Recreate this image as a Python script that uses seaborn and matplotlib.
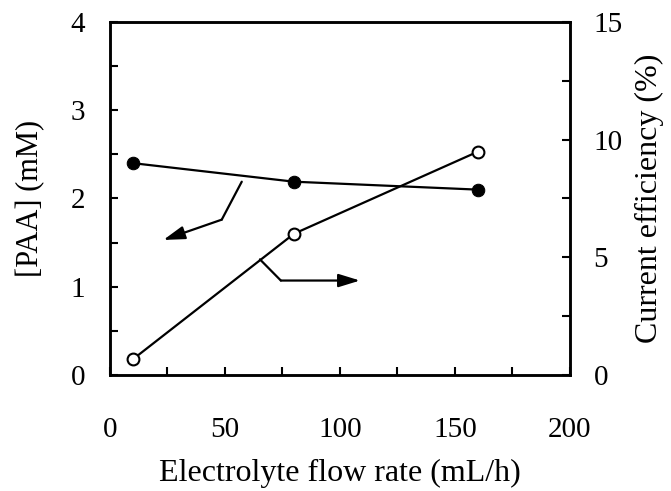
import pandas as pd
import numpy as np
import matplotlib
matplotlib.use("Agg")
import matplotlib.pyplot as plt
import seaborn as sns

sns.set_style("ticks")
plt.rcParams['font.family'] = ['Liberation Serif', 'DejaVu Serif']
plt.rcParams['text.color'] = 'black'
plt.rcParams['axes.labelcolor'] = 'black'

# data
flow_rate = [10, 80, 160]
paa_mM = [2.40, 2.19, 2.10]
current_eff = [0.67, 6.0, 9.49]

df = pd.DataFrame({"flow": flow_rate, "paa": paa_mM, "eff": current_eff})

fig = plt.figure(figsize=(6.71, 4.91), dpi=100)
ax = fig.add_axes([0.1639, 0.2363, 0.6855, 0.719])
ax2 = ax.twinx()

sns.lineplot(data=df, x="flow", y="paa", ax=ax, color="black", lw=1.6,
             marker="o", markersize=9, markerfacecolor="black",
             markeredgecolor="black")
sns.lineplot(data=df, x="flow", y="eff", ax=ax2, color="black", lw=1.6,
             marker="o", markersize=8.5, markerfacecolor="white",
             markeredgecolor="black", markeredgewidth=1.5)

# arrows pointing to the axes
arrow = dict(arrowstyle="-|>,head_length=1.3,head_width=0.4",
             color="black", lw=1.6, shrinkA=0, shrinkB=0)
ax.plot([57.3, 48.6], [2.19, 1.76], color="black", lw=1.6)
ax.annotate("", xy=(23.2, 1.53), xytext=(48.6, 1.76), arrowprops=arrow)
ax.plot([65.2, 74.3], [1.31, 1.07], color="black", lw=1.6)
ax.annotate("", xy=(108.7, 1.07), xytext=(74.3, 1.07), arrowprops=arrow)

ax.set_xlim(0, 200)
ax.set_ylim(0, 4)
ax2.set_ylim(0, 15)
ax.set_xticks([0, 50, 100, 150, 200])
ax.set_xticks([25, 75, 125, 175], minor=True)
ax.set_yticks([0, 1, 2, 3, 4])
ax.set_yticks([0.5, 1.5, 2.5, 3.5], minor=True)
ax2.set_yticks([0, 5, 10, 15])
ax2.set_yticks([2.5, 7.5, 12.5], minor=True)

for a in (ax, ax2):
    a.tick_params(which="both", direction="in", length=6, width=1.5,
                  labelsize=21, colors="black")
    for s in a.spines.values():
        s.set_linewidth(1.8)
        s.set_color("black")
ax.tick_params(axis="x", which="both", pad=30)
ax.tick_params(axis="y", which="both", pad=18)
ax2.tick_params(axis="y", which="both", pad=17)

ax.set_xlabel("Electrolyte flow rate (mL/h)", fontsize=23, labelpad=12, color="black")
ax.set_ylabel("[PAA] (mM)", fontsize=22, labelpad=18, color="black")
ax2.set_ylabel("Current efficiency (%)", fontsize=23, labelpad=9, color="black")

fig.savefig("out.png", dpi=100)
